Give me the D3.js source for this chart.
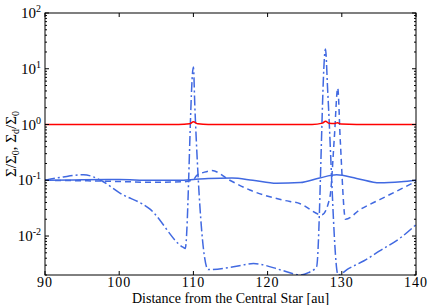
<!DOCTYPE html>
<html>
<head>
<meta charset="utf-8">
<script src="https://cdn.jsdelivr.net/npm/d3@7"></script>
<style>
  body { margin: 0; background: #fff; }
  text { font-family: "Liberation Serif", "DejaVu Serif", serif; fill: #000; }
</style>
</head>
<body>
<div id="chart"></div>
<script>
// radius in au, values are surface density ratios (log axis)
var gasR   = [90, 100, 108, 109.5, 110, 110.6, 112, 120, 126, 127.4, 127.8, 128.3, 129.0, 129.4, 129.9, 132, 140];
var gasV   = [1.0, 1.0, 1.0, 1.03, 1.12, 1.03, 1.0, 1.0, 1.0, 1.06, 1.15, 1.05, 1.04, 1.08, 1.02, 1.0, 1.0];

var solidR = [90, 95, 100, 104.2, 108, 110, 112, 115.2, 118, 121.2, 124.4, 127, 129.3, 132, 135.1, 138, 140];
var solidV = [0.1, 0.102, 0.103, 0.1, 0.1, 0.103, 0.108, 0.11, 0.1, 0.088, 0.091, 0.11, 0.125, 0.108, 0.09, 0.094, 0.1];

var dashR  = [90, 95, 100, 104.2, 108.6, 110, 110.4, 111.5, 112.5, 114.9, 117.6, 122.1, 124.4, 127.3, 128.4, 129.0, 129.45, 129.8, 130.5, 132.5, 135.1, 138, 140];
var dashV  = [0.1, 0.098, 0.095, 0.092, 0.094, 0.103, 0.12, 0.14, 0.149, 0.1, 0.067, 0.044, 0.038, 0.024, 0.05, 0.6, 4.5, 0.5, 0.02, 0.03, 0.045, 0.07, 0.096];

var ddR    = [90, 92.5, 95.2, 97.5, 100, 104.2, 108.6, 108.9, 110, 110.2, 112, 115.4, 118.1, 122.1, 124.4, 125.5, 126.6, 127.8, 128.1, 129.5, 130.9, 133, 135.1, 138, 140];
var ddV    = [0.1, 0.115, 0.126, 0.1, 0.06, 0.03, 0.0063, 0.006, 10.8, 2.0, 0.0025, 0.0028, 0.0032, 0.0024, 0.002, 0.0022, 0.0028, 22.5, 4.0, 0.002, 0.0026, 0.0036, 0.0054, 0.0095, 0.016];

var xTicks = [90, 100, 110, 120, 130, 140];
var yTicks = [100, 10, 1, 0.1, 0.01];

var width = 436, height = 305;
var margin = {left: 45, right: 20, top: 13, bottom: 30};

var svg = d3.select("#chart").append("svg")
    .attr("width", width)
    .attr("height", height);

var x = d3.scaleLinear().domain([90, 140]).range([margin.left, width - margin.right]);
var y = d3.scaleLog().domain([0.002, 100]).range([height - margin.bottom, margin.top]);

svg.append("clipPath").attr("id", "clip")
  .append("rect")
    .attr("x", x(90)).attr("y", y(100))
    .attr("width", x(140) - x(90)).attr("height", y(0.002) - y(100));

var blue = "#4169e1";

function drawSeries(rs, vs, color, dash) {
    var pts = rs.map(function (r, i) { return [r, vs[i]]; });
    svg.append("path")
        .datum(pts)
        .attr("clip-path", "url(#clip)")
        .attr("fill", "none")
        .attr("stroke", color)
        .attr("stroke-width", 1.5)
        .attr("stroke-dasharray", dash)
        .attr("d", d3.line()
            .x(function (d) { return x(d[0]); })
            .y(function (d) { return y(d[1]); })
            .curve(d3.curveMonotoneX));
}

drawSeries(solidR, solidV, blue, null);
drawSeries(dashR, dashV, blue, "6,4");
drawSeries(ddR, ddV, blue, "10,3,2,3");
drawSeries(gasR, gasV, "#ff0000", null);

// ticks (inside, on all four sides)
var g = svg.append("g");
xTicks.forEach(function (t) {
    g.append("line").attr("x1", x(t)).attr("x2", x(t))
        .attr("y1", y(0.002)).attr("y2", y(0.002) - 4).attr("stroke", "#000");
    g.append("line").attr("x1", x(t)).attr("x2", x(t))
        .attr("y1", y(100)).attr("y2", y(100) + 4).attr("stroke", "#000");
    g.append("text").attr("x", x(t)).attr("y", y(0.002) + 12)
        .attr("text-anchor", "middle").style("font-size", "14px")
        .style("letter-spacing", "1px").text(t);
});

// minor log ticks
var minors = [];
[0.001, 0.01, 0.1, 1, 10].forEach(function (b) {
    for (var k = 2; k <= 9; k++) {
        var v = b * k;
        if (v >= 0.002 && v < 100) minors.push(v);
    }
});
minors.forEach(function (v) {
    g.append("line").attr("x1", x(90)).attr("x2", x(90) + 2)
        .attr("y1", y(v)).attr("y2", y(v)).attr("stroke", "#000");
    g.append("line").attr("x1", x(140)).attr("x2", x(140) - 2)
        .attr("y1", y(v)).attr("y2", y(v)).attr("stroke", "#000");
});

yTicks.forEach(function (t) {
    g.append("line").attr("x1", x(90)).attr("x2", x(90) + 4)
        .attr("y1", y(t)).attr("y2", y(t)).attr("stroke", "#000");
    g.append("line").attr("x1", x(140)).attr("x2", x(140) - 4)
        .attr("y1", y(t)).attr("y2", y(t)).attr("stroke", "#000");
    var lbl = g.append("text").attr("x", x(90) - 4).attr("y", y(t) + 5)
        .attr("text-anchor", "end").style("font-size", "15px");
    lbl.append("tspan").text("10");
    lbl.append("tspan").attr("dy", -6).style("font-size", "10px")
        .text(String(Math.round(Math.log10(t))));
});

// frame
svg.append("rect")
    .attr("x", x(90)).attr("y", y(100))
    .attr("width", x(140) - x(90)).attr("height", y(0.002) - y(100))
    .attr("fill", "none").attr("stroke", "#000").attr("stroke-width", 1);

// axis labels
svg.append("text")
    .attr("x", (x(90) + x(140)) / 2).attr("y", height - 2)
    .attr("text-anchor", "middle").style("font-size", "14px")
    .text("Distance from the Central Star [au]");

var yl = svg.append("text")
    .attr("transform", "translate(16," + ((y(100) + y(0.002)) / 2) + ") rotate(-90)")
    .attr("text-anchor", "middle").style("font-size", "15px");
yl.append("tspan").text("Σ/Σ");
yl.append("tspan").attr("dy", 3).style("font-size", "10px").text("0");
yl.append("tspan").attr("dy", -3).text(", Σ");
yl.append("tspan").attr("dy", 3).style("font-size", "10px").text("d");
yl.append("tspan").attr("dy", -3).text("/Σ");
yl.append("tspan").attr("dy", 3).style("font-size", "10px").text("0");
</script>
</body>
</html>
